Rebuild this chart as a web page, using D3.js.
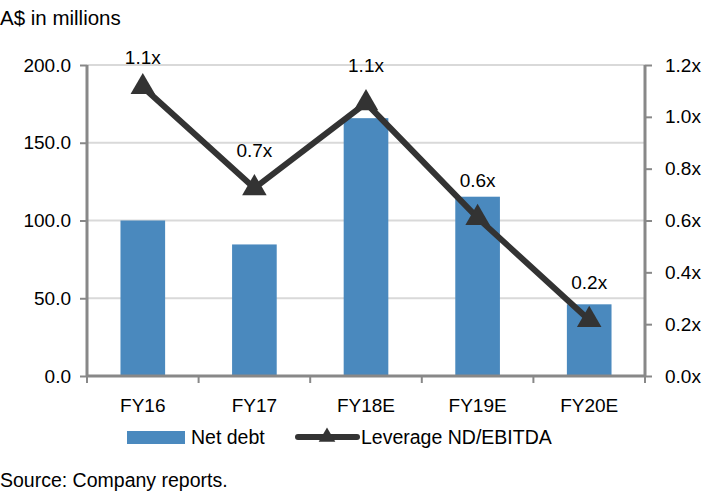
<!DOCTYPE html>
<html><head><meta charset="utf-8">
<script src="https://cdn.jsdelivr.net/npm/d3@7"></script>
<style>body{margin:0;background:#fff}svg{display:block}text{font-family:"Liberation Sans",Arial,sans-serif;fill:#000}</style>
</head><body>
<svg id="c" width="721" height="502"></svg>
<script>
const categories = ["FY16","FY17","FY18E","FY19E","FY20E"];
const netDebt = [100.0, 84.6, 165.8, 115.3, 46.1];
const leverage = [1.115, 0.725, 1.053, 0.61, 0.216];
const leverageLabels = ["1.1x","0.7x","1.1x","0.6x","0.2x"];
const leftTicks = [0,50,100,150,200];
const rightTicks = [0,0.2,0.4,0.6,0.8,1.0,1.2];

const svg = d3.select("#c");
const L = 87, R = 645, T = 65, B = 376;
const x = d3.scaleBand().domain(categories).range([L, R]).paddingInner(0.6).paddingOuter(0.3);
const y = d3.scaleLinear().domain([0,200]).range([B, T]);
const y2 = d3.scaleLinear().domain([0,1.2]).range([B, T]);
const fs = 19;

// gridlines
svg.append("g").selectAll("line").data(leftTicks.filter(d=>d>0)).join("line")
  .attr("x1", L).attr("x2", R).attr("y1", d=>y(d)).attr("y2", d=>y(d))
  .attr("stroke", "#d9d9d9").attr("stroke-width", 2);

// bars
svg.append("g").selectAll("rect").data(netDebt).join("rect")
  .attr("x", (d,i)=>x(categories[i])).attr("width", x.bandwidth())
  .attr("y", d=>y(d)).attr("height", d=>B - y(d))
  .attr("fill", "#4a89be");

// left axis
const gl = svg.append("g").attr("transform", `translate(${L},0)`)
  .call(d3.axisLeft(y).tickValues(leftTicks).tickFormat(d3.format(".1f")).tickSize(7).tickPadding(9));
gl.select(".domain").attr("stroke", "#888").attr("stroke-width", 3).attr("d", `M0,${T}V${B}`);
gl.selectAll(".tick line").attr("stroke", "#888").attr("stroke-width", 2);
gl.selectAll(".tick text").style("font-size", fs+"px").attr("fill","#000");

// right axis
const gr = svg.append("g").attr("transform", `translate(${R},0)`)
  .call(d3.axisRight(y2).tickValues(rightTicks).tickFormat(d=>d3.format(".1f")(d)+"x").tickSize(7).tickPadding(13));
gr.select(".domain").attr("stroke", "#888").attr("stroke-width", 3).attr("d", `M0,${T}V${B}`);
gr.selectAll(".tick line").attr("stroke", "#888").attr("stroke-width", 2);
gr.selectAll(".tick text").style("font-size", fs+"px").attr("fill","#000");

// bottom axis
const bandEdges = categories.map(c => x(c) - x.step()*x.paddingInner()/2).concat([R]);
const gb = svg.append("g");
gb.append("line").attr("x1", L).attr("x2", R).attr("y1", B).attr("y2", B).attr("stroke", "#888").attr("stroke-width", 3);
gb.selectAll(".tk").data(bandEdges).join("line").attr("class","tk")
  .attr("x1", d=>d).attr("x2", d=>d).attr("y1", B).attr("y2", B+7).attr("stroke", "#888").attr("stroke-width", 2);
gb.selectAll("text").data(categories).join("text")
  .attr("x", d=>x(d)+x.bandwidth()/2).attr("y", B+36).attr("text-anchor","middle")
  .style("font-size", fs+"px").text(d=>d);

// line
const px = (i)=>x(categories[i]) + x.bandwidth()/2;
const line = d3.line().x((d,i)=>px(i)).y(d=>y2(d));
svg.append("path").datum(leverage).attr("d", line).attr("fill","none")
  .attr("stroke", "#333").attr("stroke-width", 6);
const tri = d3.symbol().type(d3.symbolTriangle).size(260);
svg.append("g").selectAll("path").data(leverage).join("path")
  .attr("transform", (d,i)=>`translate(${px(i)},${y2(d)})`).attr("d", tri()).attr("fill","#333");

// data labels
svg.append("g").selectAll("text").data(leverage).join("text")
  .attr("x", (d,i)=>px(i)).attr("y", d=>Math.max(y2(d)-31, 64))
  .attr("text-anchor","middle").style("font-size", fs+"px")
  .text((d,i)=>leverageLabels[i]);

// title
svg.append("text").attr("x", 0).attr("y", 25).style("font-size", "20.5px").text("A$ in millions");

// legend
const lg = svg.append("g");
lg.append("rect").attr("x", 127).attr("y", 431).attr("width", 58).attr("height", 13).attr("fill", "#4a89be");
lg.append("text").attr("x", 191).attr("y", 444).style("font-size", "19.5px").text("Net debt");
lg.append("line").attr("x1", 298).attr("x2", 357).attr("y1", 437).attr("y2", 437)
  .attr("stroke", "#333").attr("stroke-width", 6).attr("stroke-linecap","round");
lg.append("path").attr("transform","translate(327,437)").attr("d", d3.symbol().type(d3.symbolTriangle).size(120)()).attr("fill","#333");
lg.append("text").attr("x", 361).attr("y", 444).style("font-size", "19.5px").text("Leverage ND/EBITDA");

// source
svg.append("text").attr("x", 0).attr("y", 487).style("font-size", "19.5px").text("Source: Company reports.");
</script>
</body></html>
